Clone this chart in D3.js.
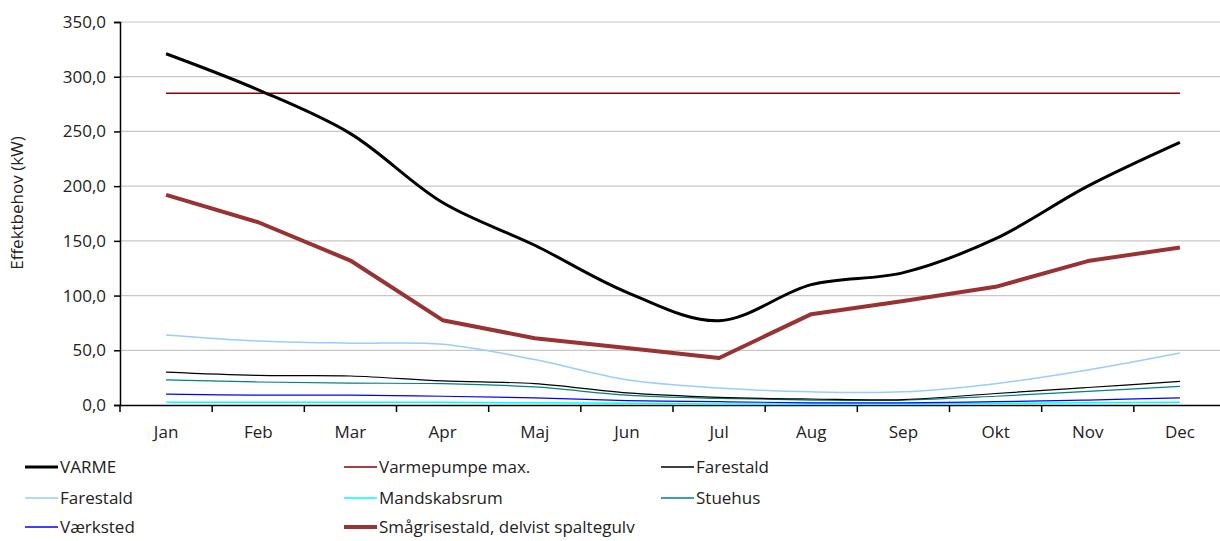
<!DOCTYPE html>
<html>
<head>
<meta charset="utf-8">
<script src="https://cdn.jsdelivr.net/npm/d3@7"></script>
<style>
  body { margin: 0; background: #fff; }
  svg text { font-family: "Open Sans", "Noto Sans", sans-serif; fill: #222; }
</style>
</head>
<body>
<div id="chart"></div>
<script>
// months on the x axis
var months = ["Jan", "Feb", "Mar", "Apr", "Maj", "Jun", "Jul", "Aug", "Sep", "Okt", "Nov", "Dec"];
var yTicks = [0, 50, 100, 150, 200, 250, 300, 350];

// series values (kW)
var varme = [321, 288, 248, 185, 146, 103, 77, 110, 121, 152, 200, 240];
var varmepumpeMax = [285, 285, 285, 285, 285, 285, 285, 285, 285, 285, 285, 285];
var farestald1 = [30, 27, 26.5, 22, 19.5, 11, 7, 5.5, 5, 10.5, 16, 21.5];
var farestald2 = [64, 58.5, 56.5, 55.5, 41.5, 23, 15.5, 12, 12, 19.5, 32, 47.5];
var mandskabsrum = [2.5, 2.5, 2.5, 2.5, 2, 1.5, 1, 1, 1, 1.5, 2, 2.5];
var stuehus = [23, 21, 20, 19.5, 16.5, 9, 6, 4.5, 4.5, 8, 12.5, 17];
var vaerksted = [10, 9, 9, 8, 6.5, 4, 3, 2, 2, 3, 4.5, 6.5];
var smaagris = [192, 167, 132, 77.5, 61, 52, 43, 83, 95, 108, 131.5, 144];

var series = [
    { name: "VARME", values: varme, color: "#000000", width: 3, smooth: true },
    { name: "Varmepumpe max.", values: varmepumpeMax, color: "#8b0000", width: 1.5, smooth: false },
    { name: "Farestald", values: farestald1, color: "#000000", width: 1.2, smooth: true },
    { name: "Farestald", values: farestald2, color: "#99ccff", width: 1.5, smooth: true },
    { name: "Mandskabsrum", values: mandskabsrum, color: "#00ffff", width: 1.5, smooth: true },
    { name: "Stuehus", values: stuehus, color: "#008080", width: 1.2, smooth: true },
    { name: "Værksted", values: vaerksted, color: "#0000ff", width: 1.2, smooth: true },
    { name: "Smågrisestald, delvist spaltegulv", values: smaagris, color: "#993333", width: 4, smooth: false }
];
// draw order: thin ones first, thick on top
var drawOrder = [4, 6, 5, 2, 3, 1, 7, 0];
var fontSize = "17px";

var svgWidth = 1220;
var svgHeight = 541;
var margin = { top: 22, right: 0, bottom: 136, left: 120 };
var chartWidth = 1226 - margin.left;
var chartHeight = svgHeight - margin.top - margin.bottom;

var svg = d3.select("#chart").append("svg")
    .attr("width", svgWidth)
    .attr("height", svgHeight);

var chartGroup = svg.append("g")
    .attr("transform", `translate(${margin.left}, ${margin.top})`);

var xScale = d3.scaleBand()
    .domain(months)
    .range([0, chartWidth]);

var yScale = d3.scaleLinear()
    .domain([0, 350])
    .range([chartHeight, 0]);

// gridlines
chartGroup.append("g").selectAll("line")
    .data(yTicks.filter(d => d > 0))
    .enter()
    .append("line")
    .attr("x1", 0)
    .attr("x2", svgWidth - margin.left)
    .attr("y1", d => yScale(d))
    .attr("y2", d => yScale(d))
    .attr("stroke", "#c8c8c8")
    .attr("stroke-width", 1.2);

// y axis
var yAxis = d3.axisLeft(yScale)
    .tickValues(yTicks)
    .tickSize(6)
    .tickFormat(d => d3.format(".1f")(d).replace(".", ","));

var yAxisG = chartGroup.append("g").call(yAxis);
yAxisG.select(".domain").attr("stroke", "#000").attr("stroke-width", 1.5);
yAxisG.selectAll(".tick line").attr("stroke", "#000").attr("stroke-width", 1.5);
yAxisG.selectAll("text")
    .attr("x", -14)
    .style("font-size", fontSize)
    .style("font-family", "'Open Sans', sans-serif")
    .attr("fill", "#222");

// x axis, ticks between categories
var xAxis = d3.axisBottom(xScale).tickSize(0).tickPadding(21);
var xAxisG = chartGroup.append("g")
    .attr("transform", `translate(0, ${chartHeight})`)
    .call(xAxis);
xAxisG.select(".domain").attr("stroke", "#000").attr("stroke-width", 1.5);
xAxisG.selectAll("text")
    .style("font-size", fontSize)
    .style("font-family", "'Open Sans', sans-serif")
    .attr("fill", "#222");
xAxisG.selectAll(".sep")
    .data(months)
    .enter()
    .append("line")
    .attr("x1", d => xScale(d))
    .attr("x2", d => xScale(d))
    .attr("y1", 0)
    .attr("y2", 7)
    .attr("stroke", "#000")
    .attr("stroke-width", 1.5);

// lines
var lineSmooth = d3.line()
    .x((d, i) => xScale(months[i]) + xScale.bandwidth() / 2)
    .y(d => yScale(d))
    .curve(d3.curveCatmullRom.alpha(0.5));
var lineStraight = d3.line()
    .x((d, i) => xScale(months[i]) + xScale.bandwidth() / 2)
    .y(d => yScale(d));

chartGroup.append("g").selectAll("path")
    .data(drawOrder.map(i => series[i]))
    .enter()
    .append("path")
    .attr("fill", "none")
    .attr("stroke", d => d.color)
    .attr("stroke-width", d => d.width)
    .attr("stroke-linejoin", "round")
    .attr("d", d => (d.smooth ? lineSmooth : lineStraight)(d.values));

// y label
svg.append("text")
    .attr("transform", "translate(23, 203) rotate(-90)")
    .attr("text-anchor", "middle")
    .style("font-size", fontSize)
    .text("Effektbehov (kW)");

// legend
var legendCols = [25, 344, 661];
var legendRows = [467, 498, 527];
var legend = svg.append("g").selectAll("g")
    .data(series)
    .enter()
    .append("g")
    .attr("transform", (d, i) => `translate(${legendCols[i % 3]}, ${legendRows[Math.floor(i / 3)]})`);

legend.append("line")
    .attr("x1", 0)
    .attr("x2", 33)
    .attr("y1", 0)
    .attr("y2", 0)
    .attr("stroke", d => d.color)
    .attr("stroke-width", d => Math.max(d.width, 1.5));

legend.append("text")
    .attr("x", 35)
    .attr("y", 0)
    .attr("dy", "0.35em")
    .style("font-size", fontSize)
    .text(d => d.name);
</script>
</body>
</html>
